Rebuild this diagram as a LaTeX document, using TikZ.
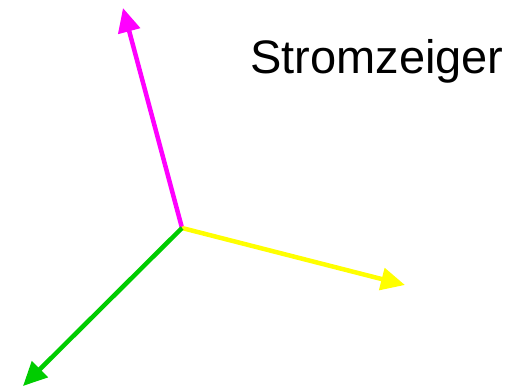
\documentclass[tikz,border=0pt]{standalone}
\usepackage{fontspec}
\setmainfont{Liberation Sans}
\usetikzlibrary{arrows.meta, positioning}

\begin{document}
\begin{tikzpicture}[
    x=1pt, y=-1pt,
    zeiger/.style={line width=4.5pt, -{Triangle[length=24pt, width=22pt]}},
    label/.style={font=\fontsize{47}{54}\selectfont, anchor=base}]
\useasboundingbox (0,0) rectangle (515,388);
\definecolor{zmagenta}{RGB}{255,0,255}
\definecolor{zyellow}{RGB}{255,255,0}
\definecolor{zgreen}{RGB}{0,204,0}
\coordinate (origin) at (182,228);
\coordinate (ia) at (123,8);
\coordinate (ib) at (405,285);
\coordinate (ic) at (23,386);
\node[label] (title) at (377,73) {Stromzeiger};

\draw[zeiger, zmagenta] (origin) -- (ia);
\draw[zeiger, zyellow] (origin) -- (ib);
\draw[zeiger, zgreen] (origin) -- (ic);
\end{tikzpicture}
\end{document}
